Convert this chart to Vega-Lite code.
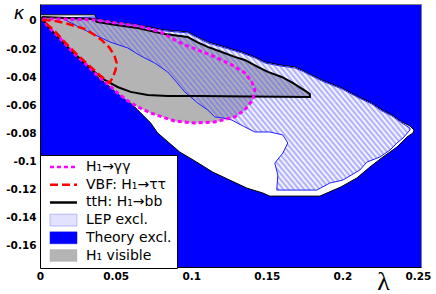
{
  "$schema": "https://vega.github.io/schema/vega-lite/v6.json",
  "width": 381,
  "height": 263,
  "autosize": {"type": "none"},
  "padding": {"left": 40, "top": 4, "right": 15, "bottom": 27},
  "background": "white",
  "view": {"fill": "#0000ff", "stroke": "#808080", "strokeWidth": 1},
  "config": {
    "axis": {"labelFont": "DejaVu Sans", "labelFontWeight": "bold", "labelFontSize": 10.5, "labelColor": "black", "domainColor": "black", "domainWidth": 1, "ticks": false, "grid": false, "labelFlush": false, "labelOverlap": false, "labelPadding": 4}
  },
  "datasets": {
    "allowed": [
      {"x":0.0003,"y":0.0043},{"x":0.0361,"y":0.0043},{"x":0.0374,"y":0.0014},{"x":0.0493,"y":-0.0007},{"x":0.0646,"y":-0.0028},{"x":0.0824,"y":-0.0064},{"x":0.0977,"y":-0.0078},{"x":0.1043,"y":-0.0114},{"x":0.1109,"y":-0.0149},{"x":0.1222,"y":-0.0185},{"x":0.1334,"y":-0.0221},{"x":0.1421,"y":-0.0256},{"x":0.1487,"y":-0.0292},{"x":0.1586,"y":-0.0313},{"x":0.1685,"y":-0.0327},{"x":0.1732,"y":-0.0349},{"x":0.1864,"y":-0.0420},{"x":0.1997,"y":-0.0477},{"x":0.2109,"y":-0.0541},{"x":0.2195,"y":-0.0584},{"x":0.2262,"y":-0.0633},{"x":0.2328,"y":-0.0669},{"x":0.2394,"y":-0.0719},{"x":0.2447,"y":-0.0747},{"x":0.2474,"y":-0.0776},
      {"x":0.2467,"y":-0.0797},{"x":0.2427,"y":-0.0826},{"x":0.2361,"y":-0.0897},{"x":0.2268,"y":-0.0968},{"x":0.2182,"y":-0.1039},{"x":0.2096,"y":-0.1117},{"x":0.1990,"y":-0.1181},{"x":0.1851,"y":-0.1246},{"x":0.1520,"y":-0.1246},{"x":0.1474,"y":-0.1224},{"x":0.1368,"y":-0.1189},{"x":0.1255,"y":-0.1132},{"x":0.1142,"y":-0.1075},{"x":0.1036,"y":-0.1004},{"x":0.0924,"y":-0.0932},{"x":0.0778,"y":-0.0797},{"x":0.0732,"y":-0.0726},{"x":0.0646,"y":-0.0633},{"x":0.0560,"y":-0.0541},{"x":0.0467,"y":-0.0470},{"x":0.0381,"y":-0.0399},{"x":0.0315,"y":-0.0327},{"x":0.0228,"y":-0.0242},{"x":0.0136,"y":-0.0135},{"x":0.0050,"y":-0.0043},{"x":0.0003,"y":0.0021},{"x":0.0003,"y":0.0043}
    ],
    "grey": [
      {"x":0.0010,"y":0.0028},{"x":0.0361,"y":0.0014},{"x":0.0374,"y":-0.0007},{"x":0.0493,"y":-0.0028},{"x":0.0646,"y":-0.0050},{"x":0.0824,"y":-0.0093},{"x":0.0977,"y":-0.0114},{"x":0.1036,"y":-0.0149},{"x":0.1109,"y":-0.0185},{"x":0.1202,"y":-0.0221},{"x":0.1288,"y":-0.0256},{"x":0.1354,"y":-0.0278},{"x":0.1440,"y":-0.0327},{"x":0.1507,"y":-0.0363},{"x":0.1599,"y":-0.0399},{"x":0.1672,"y":-0.0441},{"x":0.1765,"y":-0.0505},{"x":0.1785,"y":-0.0520},{"x":0.1785,"y":-0.0541},
      {"x":0.1421,"y":-0.0537},{"x":0.1407,"y":-0.0562},{"x":0.1354,"y":-0.0633},{"x":0.1288,"y":-0.0683},{"x":0.1156,"y":-0.0719},{"x":0.1023,"y":-0.0726},{"x":0.0891,"y":-0.0712},{"x":0.0732,"y":-0.0655},{"x":0.0646,"y":-0.0612},{"x":0.0573,"y":-0.0562},{"x":0.0513,"y":-0.0512},{"x":0.0447,"y":-0.0448},{"x":0.0381,"y":-0.0391},{"x":0.0315,"y":-0.0320},{"x":0.0228,"y":-0.0235},{"x":0.0136,"y":-0.0128},{"x":0.0050,"y":-0.0036},{"x":0.0010,"y":0.0028}
    ],
    "lep": [
      {"x":0.0142,"y":0.0021},{"x":0.0361,"y":0.0028},{"x":0.0374,"y":0.0007},{"x":0.0493,"y":-0.0014},{"x":0.0646,"y":-0.0036},{"x":0.0824,"y":-0.0071},{"x":0.0977,"y":-0.0085},{"x":0.1043,"y":-0.0121},{"x":0.1109,"y":-0.0157},{"x":0.1222,"y":-0.0192},{"x":0.1334,"y":-0.0228},{"x":0.1421,"y":-0.0263},{"x":0.1487,"y":-0.0299},{"x":0.1586,"y":-0.0320},{"x":0.1685,"y":-0.0335},{"x":0.1732,"y":-0.0356},{"x":0.1864,"y":-0.0427},{"x":0.1997,"y":-0.0484},{"x":0.2109,"y":-0.0548},{"x":0.2195,"y":-0.0591},{"x":0.2262,"y":-0.0641},{"x":0.2328,"y":-0.0676},{"x":0.2394,"y":-0.0726},{"x":0.2447,"y":-0.0762},
      {"x":0.2447,"y":-0.0776},{"x":0.2401,"y":-0.0833},{"x":0.2361,"y":-0.0868},{"x":0.2315,"y":-0.0918},{"x":0.2248,"y":-0.0968},{"x":0.2162,"y":-0.1004},{"x":0.2116,"y":-0.1060},{"x":0.2003,"y":-0.1132},{"x":0.1917,"y":-0.1153},{"x":0.1831,"y":-0.1203},{"x":0.1566,"y":-0.1203},{"x":0.1573,"y":-0.1096},{"x":0.1553,"y":-0.1011},{"x":0.1606,"y":-0.0940},{"x":0.1639,"y":-0.0868},{"x":0.1606,"y":-0.0811},{"x":0.1520,"y":-0.0790},{"x":0.1421,"y":-0.0790},{"x":0.1354,"y":-0.0754},{"x":0.1268,"y":-0.0705},{"x":0.1209,"y":-0.0690},{"x":0.1156,"y":-0.0683},{"x":0.1109,"y":-0.0633},{"x":0.1043,"y":-0.0584},{"x":0.0957,"y":-0.0505},{"x":0.0891,"y":-0.0420},{"x":0.0844,"y":-0.0363},{"x":0.0758,"y":-0.0299},{"x":0.0666,"y":-0.0249},{"x":0.0579,"y":-0.0192},{"x":0.0460,"y":-0.0149},{"x":0.0281,"y":-0.0057},{"x":0.0142,"y":0.0021}
    ],
    "tth": [
      {"series":"ttH: H₁→bb","x":0.0010,"y":0.0028},{"series":"ttH: H₁→bb","x":0.0361,"y":0.0014},{"series":"ttH: H₁→bb","x":0.0374,"y":-0.0007},{"series":"ttH: H₁→bb","x":0.0493,"y":-0.0028},{"series":"ttH: H₁→bb","x":0.0646,"y":-0.0050},{"series":"ttH: H₁→bb","x":0.0824,"y":-0.0093},{"series":"ttH: H₁→bb","x":0.0977,"y":-0.0114},{"series":"ttH: H₁→bb","x":0.1036,"y":-0.0149},{"series":"ttH: H₁→bb","x":0.1109,"y":-0.0185},{"series":"ttH: H₁→bb","x":0.1202,"y":-0.0221},{"series":"ttH: H₁→bb","x":0.1288,"y":-0.0256},{"series":"ttH: H₁→bb","x":0.1354,"y":-0.0278},{"series":"ttH: H₁→bb","x":0.1440,"y":-0.0327},{"series":"ttH: H₁→bb","x":0.1507,"y":-0.0363},{"series":"ttH: H₁→bb","x":0.1599,"y":-0.0399},{"series":"ttH: H₁→bb","x":0.1672,"y":-0.0441},{"series":"ttH: H₁→bb","x":0.1765,"y":-0.0505},{"series":"ttH: H₁→bb","x":0.1785,"y":-0.0520},{"series":"ttH: H₁→bb","x":0.1785,"y":-0.0541},
      {"series":"ttH: H₁→bb","x":0.1387,"y":-0.0537},{"series":"ttH: H₁→bb","x":0.1056,"y":-0.0534},{"series":"ttH: H₁→bb","x":0.0844,"y":-0.0534},{"series":"ttH: H₁→bb","x":0.0712,"y":-0.0527},{"series":"ttH: H₁→bb","x":0.0599,"y":-0.0505},{"series":"ttH: H₁→bb","x":0.0513,"y":-0.0470},{"series":"ttH: H₁→bb","x":0.0427,"y":-0.0420},{"series":"ttH: H₁→bb","x":0.0361,"y":-0.0363},{"series":"ttH: H₁→bb","x":0.0295,"y":-0.0299},{"series":"ttH: H₁→bb","x":0.0202,"y":-0.0206},{"series":"ttH: H₁→bb","x":0.0116,"y":-0.0114},{"series":"ttH: H₁→bb","x":0.0043,"y":-0.0028},{"series":"ttH: H₁→bb","x":0.0010,"y":0.0028}
    ],
    "gg": [
      {"series":"H₁→γγ","x":0.0017,"y":0.0014},{"series":"H₁→γγ","x":0.0129,"y":0.0014},{"series":"H₁→γγ","x":0.0361,"y":0.0007},{"series":"H₁→γγ","x":0.0493,"y":-0.0014},{"series":"H₁→γγ","x":0.0646,"y":-0.0036},{"series":"H₁→γγ","x":0.0798,"y":-0.0078},{"series":"H₁→γγ","x":0.0891,"y":-0.0135},{"series":"H₁→γγ","x":0.0957,"y":-0.0171},{"series":"H₁→γγ","x":0.1043,"y":-0.0206},{"series":"H₁→γγ","x":0.1156,"y":-0.0256},{"series":"H₁→γγ","x":0.1268,"y":-0.0313},{"series":"H₁→γγ","x":0.1354,"y":-0.0370},{"series":"H₁→γγ","x":0.1401,"y":-0.0434},{"series":"H₁→γγ","x":0.1421,"y":-0.0491},{"series":"H₁→γγ","x":0.1407,"y":-0.0562},{"series":"H₁→γγ","x":0.1354,"y":-0.0633},{"series":"H₁→γγ","x":0.1288,"y":-0.0683},{"series":"H₁→γγ","x":0.1156,"y":-0.0719},{"series":"H₁→γγ","x":0.1023,"y":-0.0726},{"series":"H₁→γγ","x":0.0891,"y":-0.0712},{"series":"H₁→γγ","x":0.0732,"y":-0.0655},{"series":"H₁→γγ","x":0.0646,"y":-0.0612},{"series":"H₁→γγ","x":0.0573,"y":-0.0562},{"series":"H₁→γγ","x":0.0513,"y":-0.0512},{"series":"H₁→γγ","x":0.0447,"y":-0.0448},{"series":"H₁→γγ","x":0.0381,"y":-0.0391},{"series":"H₁→γγ","x":0.0315,"y":-0.0320},{"series":"H₁→γγ","x":0.0228,"y":-0.0235},{"series":"H₁→γγ","x":0.0136,"y":-0.0128},{"series":"H₁→γγ","x":0.0050,"y":-0.0036},{"series":"H₁→γγ","x":0.0017,"y":0.0014}
    ],
    "vbf": [
      {"series":"VBF: H₁→ττ","x":0.0017,"y":0.0007},{"series":"VBF: H₁→ττ","x":0.0096,"y":0.0},{"series":"VBF: H₁→ττ","x":0.0162,"y":-0.0014},{"series":"VBF: H₁→ττ","x":0.0228,"y":-0.0036},{"series":"VBF: H₁→ττ","x":0.0295,"y":-0.0057},{"series":"VBF: H₁→ττ","x":0.0361,"y":-0.0100},{"series":"VBF: H₁→ττ","x":0.0414,"y":-0.0142},{"series":"VBF: H₁→ττ","x":0.0460,"y":-0.0192},{"series":"VBF: H₁→ττ","x":0.0493,"y":-0.0249},{"series":"VBF: H₁→ττ","x":0.0507,"y":-0.0299},{"series":"VBF: H₁→ττ","x":0.0500,"y":-0.0349},{"series":"VBF: H₁→ττ","x":0.0480,"y":-0.0406},{"series":"VBF: H₁→ττ","x":0.0460,"y":-0.0441},{"series":"VBF: H₁→ττ","x":0.0394,"y":-0.0384},{"series":"VBF: H₁→ττ","x":0.0328,"y":-0.0320},{"series":"VBF: H₁→ττ","x":0.0248,"y":-0.0242},{"series":"VBF: H₁→ττ","x":0.0169,"y":-0.0157},{"series":"VBF: H₁→ττ","x":0.0096,"y":-0.0071},{"series":"VBF: H₁→ττ","x":0.0036,"y":-0.0014},{"series":"VBF: H₁→ττ","x":0.0017,"y":0.0007}
    ]
  },
  "encoding": {
    "x": {"field": "x", "type": "quantitative",
      "scale": {"domain": [0, 0.252], "nice": false, "zero": false},
      "axis": {"values": [0, 0.05, 0.1, 0.15, 0.2, 0.25], "labelExpr": "'' + datum.value", "title": "λ", "titleX": 343, "titleY": 14, "titleAlign": "center", "titleBaseline": "middle", "titleFont": "Liberation Serif", "titleFontSize": 26, "titleFontWeight": "normal", "titleColor": "black"}},
    "y": {"field": "y", "type": "quantitative",
      "scale": {"domain": [-0.175, 0.012], "nice": false, "zero": false},
      "axis": {"values": [0, -0.02, -0.04, -0.06, -0.08, -0.1, -0.12, -0.14, -0.16], "labelExpr": "'' + datum.value", "title": "κ", "titleAngle": 0, "titleX": -21.5, "titleY": 9, "titleAlign": "center", "titleBaseline": "middle", "titleFont": "DejaVu Sans", "titleFontStyle": "italic", "titleFontSize": 18, "titleFontWeight": "normal", "titleColor": "black"}}
  },
  "layer": [
    {"data": {"name": "allowed"}, "mark": {"type": "line", "fill": "white", "stroke": "black", "strokeWidth": 1, "clip": true}, "encoding": {"order": {"value": null}}},
    {"data": {"name": "grey"}, "mark": {"type": "line", "fill": "#b4b4b4", "stroke": "#b4b4b4", "strokeWidth": 0.5, "clip": true}, "encoding": {"order": {"value": null}}},
    {"data": {"name": "lep"}, "mark": {"type": "line", "stroke": "#2020ff", "strokeWidth": 1, "clip": true,
      "fill": {"gradient": "linear", "x1": 0, "y1": 1, "x2": 1.207, "y2": 0.504, "stops": [
        {"offset":0,"color":"#5a5aff8c"},{"offset":0.0053,"color":"#5a5aff00"},{"offset":0.0105,"color":"#5a5aff8c"},{"offset":0.0158,"color":"#5a5aff00"},{"offset":0.0211,"color":"#5a5aff8c"},{"offset":0.0263,"color":"#5a5aff00"},{"offset":0.0316,"color":"#5a5aff8c"},{"offset":0.0368,"color":"#5a5aff00"},{"offset":0.0421,"color":"#5a5aff8c"},{"offset":0.0474,"color":"#5a5aff00"},{"offset":0.0526,"color":"#5a5aff8c"},{"offset":0.0579,"color":"#5a5aff00"},{"offset":0.0632,"color":"#5a5aff8c"},{"offset":0.0684,"color":"#5a5aff00"},{"offset":0.0737,"color":"#5a5aff8c"},{"offset":0.0789,"color":"#5a5aff00"},{"offset":0.0842,"color":"#5a5aff8c"},{"offset":0.0895,"color":"#5a5aff00"},{"offset":0.0947,"color":"#5a5aff8c"},
        {"offset":0.1,"color":"#5a5aff00"},{"offset":0.1053,"color":"#5a5aff8c"},{"offset":0.1105,"color":"#5a5aff00"},{"offset":0.1158,"color":"#5a5aff8c"},{"offset":0.1211,"color":"#5a5aff00"},{"offset":0.1263,"color":"#5a5aff8c"},{"offset":0.1316,"color":"#5a5aff00"},{"offset":0.1368,"color":"#5a5aff8c"},{"offset":0.1421,"color":"#5a5aff00"},{"offset":0.1474,"color":"#5a5aff8c"},{"offset":0.1526,"color":"#5a5aff00"},{"offset":0.1579,"color":"#5a5aff8c"},{"offset":0.1632,"color":"#5a5aff00"},{"offset":0.1684,"color":"#5a5aff8c"},{"offset":0.1737,"color":"#5a5aff00"},{"offset":0.1789,"color":"#5a5aff8c"},{"offset":0.1842,"color":"#5a5aff00"},{"offset":0.1895,"color":"#5a5aff8c"},{"offset":0.1947,"color":"#5a5aff00"},
        {"offset":0.2,"color":"#5a5aff8c"},{"offset":0.2053,"color":"#5a5aff00"},{"offset":0.2105,"color":"#5a5aff8c"},{"offset":0.2158,"color":"#5a5aff00"},{"offset":0.2211,"color":"#5a5aff8c"},{"offset":0.2263,"color":"#5a5aff00"},{"offset":0.2316,"color":"#5a5aff8c"},{"offset":0.2368,"color":"#5a5aff00"},{"offset":0.2421,"color":"#5a5aff8c"},{"offset":0.2474,"color":"#5a5aff00"},{"offset":0.2526,"color":"#5a5aff8c"},{"offset":0.2579,"color":"#5a5aff00"},{"offset":0.2632,"color":"#5a5aff8c"},{"offset":0.2684,"color":"#5a5aff00"},{"offset":0.2737,"color":"#5a5aff8c"},{"offset":0.2789,"color":"#5a5aff00"},{"offset":0.2842,"color":"#5a5aff8c"},{"offset":0.2895,"color":"#5a5aff00"},{"offset":0.2947,"color":"#5a5aff8c"},
        {"offset":0.3,"color":"#5a5aff00"},{"offset":0.3053,"color":"#5a5aff8c"},{"offset":0.3105,"color":"#5a5aff00"},{"offset":0.3158,"color":"#5a5aff8c"},{"offset":0.3211,"color":"#5a5aff00"},{"offset":0.3263,"color":"#5a5aff8c"},{"offset":0.3316,"color":"#5a5aff00"},{"offset":0.3368,"color":"#5a5aff8c"},{"offset":0.3421,"color":"#5a5aff00"},{"offset":0.3474,"color":"#5a5aff8c"},{"offset":0.3526,"color":"#5a5aff00"},{"offset":0.3579,"color":"#5a5aff8c"},{"offset":0.3632,"color":"#5a5aff00"},{"offset":0.3684,"color":"#5a5aff8c"},{"offset":0.3737,"color":"#5a5aff00"},{"offset":0.3789,"color":"#5a5aff8c"},{"offset":0.3842,"color":"#5a5aff00"},{"offset":0.3895,"color":"#5a5aff8c"},{"offset":0.3947,"color":"#5a5aff00"},
        {"offset":0.4,"color":"#5a5aff8c"},{"offset":0.4053,"color":"#5a5aff00"},{"offset":0.4105,"color":"#5a5aff8c"},{"offset":0.4158,"color":"#5a5aff00"},{"offset":0.4211,"color":"#5a5aff8c"},{"offset":0.4263,"color":"#5a5aff00"},{"offset":0.4316,"color":"#5a5aff8c"},{"offset":0.4368,"color":"#5a5aff00"},{"offset":0.4421,"color":"#5a5aff8c"},{"offset":0.4474,"color":"#5a5aff00"},{"offset":0.4526,"color":"#5a5aff8c"},{"offset":0.4579,"color":"#5a5aff00"},{"offset":0.4632,"color":"#5a5aff8c"},{"offset":0.4684,"color":"#5a5aff00"},{"offset":0.4737,"color":"#5a5aff8c"},{"offset":0.4789,"color":"#5a5aff00"},{"offset":0.4842,"color":"#5a5aff8c"},{"offset":0.4895,"color":"#5a5aff00"},{"offset":0.4947,"color":"#5a5aff8c"},
        {"offset":0.5,"color":"#5a5aff00"},{"offset":0.5053,"color":"#5a5aff8c"},{"offset":0.5105,"color":"#5a5aff00"},{"offset":0.5158,"color":"#5a5aff8c"},{"offset":0.5211,"color":"#5a5aff00"},{"offset":0.5263,"color":"#5a5aff8c"},{"offset":0.5316,"color":"#5a5aff00"},{"offset":0.5368,"color":"#5a5aff8c"},{"offset":0.5421,"color":"#5a5aff00"},{"offset":0.5474,"color":"#5a5aff8c"},{"offset":0.5526,"color":"#5a5aff00"},{"offset":0.5579,"color":"#5a5aff8c"},{"offset":0.5632,"color":"#5a5aff00"},{"offset":0.5684,"color":"#5a5aff8c"},{"offset":0.5737,"color":"#5a5aff00"},{"offset":0.5789,"color":"#5a5aff8c"},{"offset":0.5842,"color":"#5a5aff00"},{"offset":0.5895,"color":"#5a5aff8c"},{"offset":0.5947,"color":"#5a5aff00"},
        {"offset":0.6,"color":"#5a5aff8c"},{"offset":0.6053,"color":"#5a5aff00"},{"offset":0.6105,"color":"#5a5aff8c"},{"offset":0.6158,"color":"#5a5aff00"},{"offset":0.6211,"color":"#5a5aff8c"},{"offset":0.6263,"color":"#5a5aff00"},{"offset":0.6316,"color":"#5a5aff8c"},{"offset":0.6368,"color":"#5a5aff00"},{"offset":0.6421,"color":"#5a5aff8c"},{"offset":0.6474,"color":"#5a5aff00"},{"offset":0.6526,"color":"#5a5aff8c"},{"offset":0.6579,"color":"#5a5aff00"},{"offset":0.6632,"color":"#5a5aff8c"},{"offset":0.6684,"color":"#5a5aff00"},{"offset":0.6737,"color":"#5a5aff8c"},{"offset":0.6789,"color":"#5a5aff00"},{"offset":0.6842,"color":"#5a5aff8c"},{"offset":0.6895,"color":"#5a5aff00"},{"offset":0.6947,"color":"#5a5aff8c"},
        {"offset":0.7,"color":"#5a5aff00"},{"offset":0.7053,"color":"#5a5aff8c"},{"offset":0.7105,"color":"#5a5aff00"},{"offset":0.7158,"color":"#5a5aff8c"},{"offset":0.7211,"color":"#5a5aff00"},{"offset":0.7263,"color":"#5a5aff8c"},{"offset":0.7316,"color":"#5a5aff00"},{"offset":0.7368,"color":"#5a5aff8c"},{"offset":0.7421,"color":"#5a5aff00"},{"offset":0.7474,"color":"#5a5aff8c"},{"offset":0.7526,"color":"#5a5aff00"},{"offset":0.7579,"color":"#5a5aff8c"},{"offset":0.7632,"color":"#5a5aff00"},{"offset":0.7684,"color":"#5a5aff8c"},{"offset":0.7737,"color":"#5a5aff00"},{"offset":0.7789,"color":"#5a5aff8c"},{"offset":0.7842,"color":"#5a5aff00"},{"offset":0.7895,"color":"#5a5aff8c"},{"offset":0.7947,"color":"#5a5aff00"},
        {"offset":0.8,"color":"#5a5aff8c"},{"offset":0.8053,"color":"#5a5aff00"},{"offset":0.8105,"color":"#5a5aff8c"},{"offset":0.8158,"color":"#5a5aff00"},{"offset":0.8211,"color":"#5a5aff8c"},{"offset":0.8263,"color":"#5a5aff00"},{"offset":0.8316,"color":"#5a5aff8c"},{"offset":0.8368,"color":"#5a5aff00"},{"offset":0.8421,"color":"#5a5aff8c"},{"offset":0.8474,"color":"#5a5aff00"},{"offset":0.8526,"color":"#5a5aff8c"},{"offset":0.8579,"color":"#5a5aff00"},{"offset":0.8632,"color":"#5a5aff8c"},{"offset":0.8684,"color":"#5a5aff00"},{"offset":0.8737,"color":"#5a5aff8c"},{"offset":0.8789,"color":"#5a5aff00"},{"offset":0.8842,"color":"#5a5aff8c"},{"offset":0.8895,"color":"#5a5aff00"},{"offset":0.8947,"color":"#5a5aff8c"},
        {"offset":0.9,"color":"#5a5aff00"},{"offset":0.9053,"color":"#5a5aff8c"},{"offset":0.9105,"color":"#5a5aff00"},{"offset":0.9158,"color":"#5a5aff8c"},{"offset":0.9211,"color":"#5a5aff00"},{"offset":0.9263,"color":"#5a5aff8c"},{"offset":0.9316,"color":"#5a5aff00"},{"offset":0.9368,"color":"#5a5aff8c"},{"offset":0.9421,"color":"#5a5aff00"},{"offset":0.9474,"color":"#5a5aff8c"},{"offset":0.9526,"color":"#5a5aff00"},{"offset":0.9579,"color":"#5a5aff8c"},{"offset":0.9632,"color":"#5a5aff00"},{"offset":0.9684,"color":"#5a5aff8c"},{"offset":0.9737,"color":"#5a5aff00"},{"offset":0.9789,"color":"#5a5aff8c"},{"offset":0.9842,"color":"#5a5aff00"},{"offset":0.9895,"color":"#5a5aff8c"},{"offset":0.9947,"color":"#5a5aff00"},
        {"offset":1,"color":"#5a5aff8c"}]}},
      "encoding": {"order": {"value": null}}},
    {"data": {"name": "tth"}, "mark": {"type": "line", "strokeWidth": 2, "clip": true},
      "encoding": {"order": {"value": null},
        "color": {"field": "series", "type": "nominal",
          "scale": {"domain": ["H₁→γγ", "VBF: H₁→ττ", "ttH: H₁→bb", "LEP excl.", "Theory excl.", "H₁ visible"], "range": ["#ff00ff", "#ff0000", "#000000", "#8080ff", "#0000ff", "#b4b4b4"]},
          "legend": {"title": null, "orient": "none", "legendX": 0, "legendY": 151, "fillColor": "white", "strokeColor": "black", "padding": 5, "cornerRadius": 0,
            "labelFont": "DejaVu Sans", "labelFontSize": 14, "labelColor": "black", "labelOffset": 27, "symbolSize": 144, "rowPadding": 3.7,
            "encode": {"symbols": {"update": {
              "shape": {"signal": "indexof(['LEP excl.','Theory excl.','H₁ visible'], datum.value) >= 0 ? 'M-0.15,-0.44H1.85V0.44H-0.15Z' : 'M-0.15,0H1.85'"},
              "size": {"value": 729},
              "fill": {"signal": "datum.value == 'LEP excl.' ? '#e2e2ff' : datum.value == 'Theory excl.' ? '#0000ff' : datum.value == 'H₁ visible' ? '#b4b4b4' : 'transparent'"},
              "stroke": {"signal": "datum.value == 'LEP excl.' ? '#9090ff' : datum.value == 'Theory excl.' ? '#0000ff' : datum.value == 'H₁ visible' ? '#b4b4b4' : scale('color', datum.value)"},
              "strokeDash": {"signal": "datum.value == 'H₁→γγ' ? [4,3] : datum.value == 'VBF: H₁→ττ' ? [8,4] : [1,0]"},
              "strokeWidth": {"signal": "indexof(['LEP excl.','Theory excl.','H₁ visible'], datum.value) >= 0 ? 0.5 : 2.5"},
              "opacity": {"value": 1}
            }}}}}}},
    {"data": {"name": "gg"}, "mark": {"type": "line", "strokeWidth": 3, "strokeDash": [4, 3], "clip": true},
      "encoding": {"order": {"value": null}, "color": {"field": "series", "type": "nominal"}}},
    {"data": {"name": "vbf"}, "mark": {"type": "line", "strokeWidth": 2.5, "strokeDash": [8, 4], "clip": true},
      "encoding": {"order": {"value": null}, "color": {"field": "series", "type": "nominal"}}}
  ]
}
